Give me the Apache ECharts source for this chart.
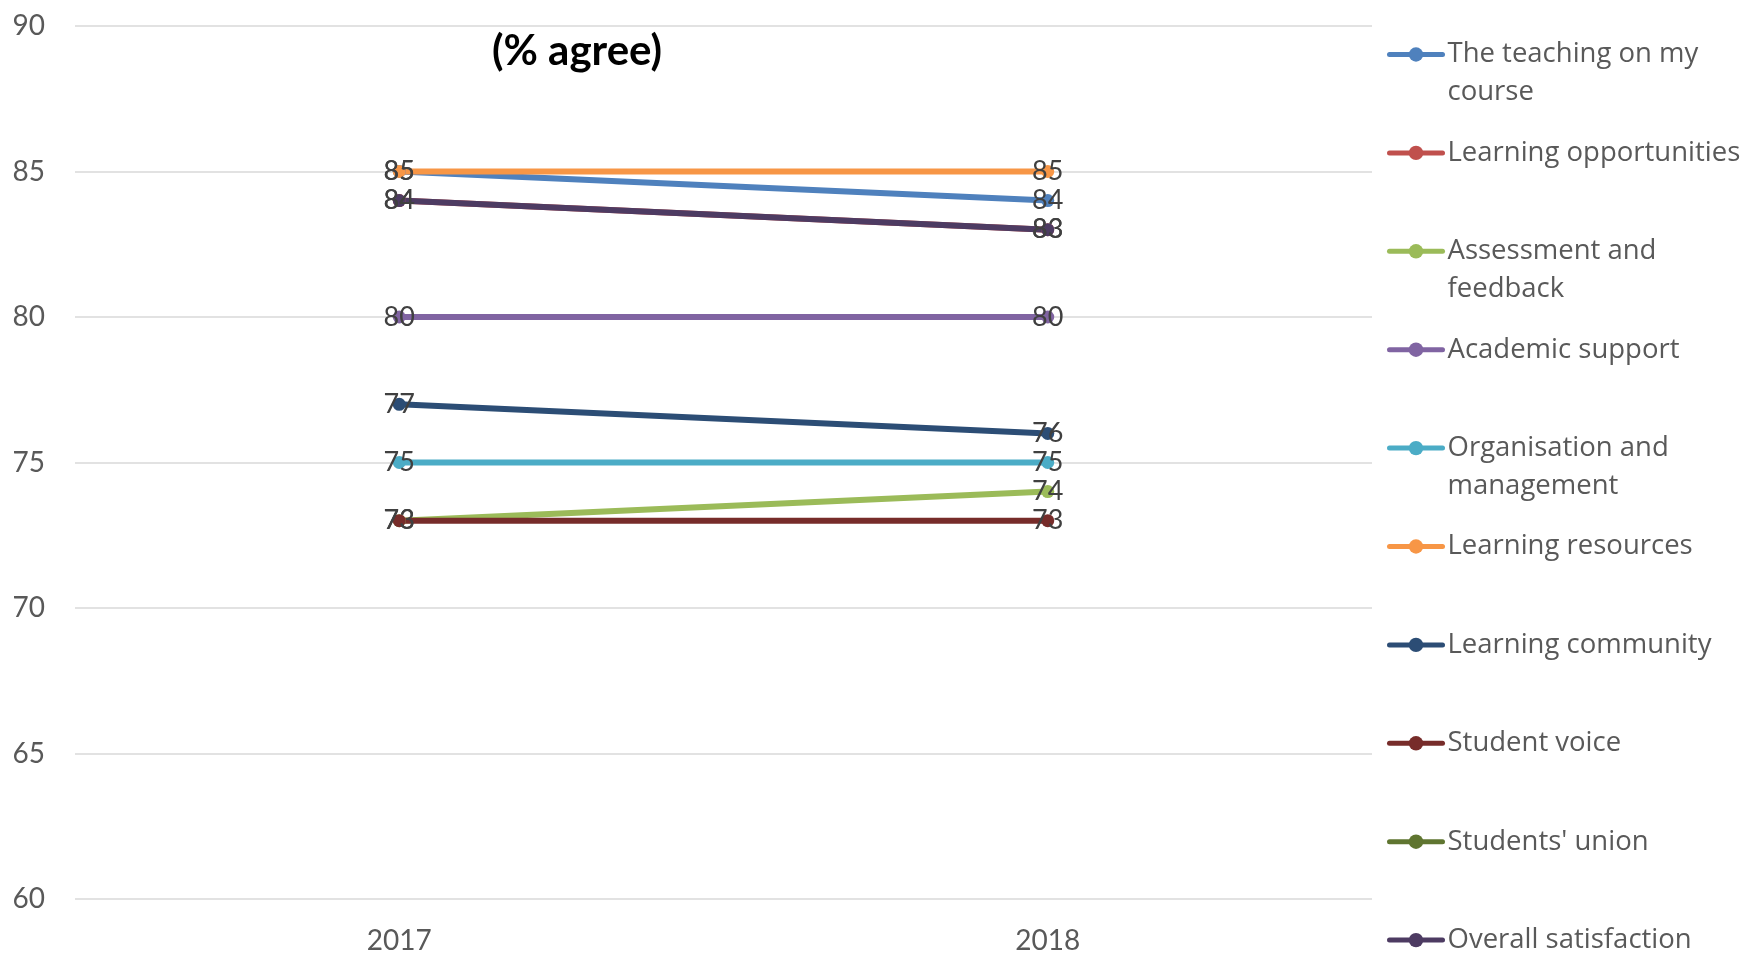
<!DOCTYPE html>
<html>
<head>
<meta charset="utf-8">
<title>Student survey results (% agree)</title>
<script src="https://cdn.jsdelivr.net/npm/echarts@6/dist/echarts.min.js"></script>
<style>
  html, body { margin: 0; padding: 0; background: #ffffff; }
  #chart { width: 1744px; height: 955px; }
</style>
</head>
<body>
<div id="chart"></div>
<script>
// Survey years on the category axis
const years = ['2017', '2018'];

// Value axis ticks
const yMin = 60;
const yMax = 90;
const yStep = 5;

// Question areas, in legend order
const seriesNames = [
  'The teaching on my course',
  'Learning opportunities',
  'Assessment and feedback',
  'Academic support',
  'Organisation and management',
  'Learning resources',
  'Learning community',
  'Student voice',
  "Students' union",
  'Overall satisfaction'
];

// Percentage agreeing, per area, for 2017 and 2018
const teaching = [85, 84];
const learningOpportunities = [84, 83];
const assessment = [73, 74];
const academicSupport = [80, 80];
const organisation = [75, 75];
const learningResources = [85, 85];
const learningCommunity = [77, 76];
const studentVoice = [73, 73];
const studentsUnion = [null, null];
const overall = [84, 83];

const seriesValues = [
  teaching, learningOpportunities, assessment, academicSupport, organisation,
  learningResources, learningCommunity, studentVoice, studentsUnion, overall
];

const colors = [
  '#4F81BD', '#C0504D', '#9BBB59', '#8064A2', '#4BACC6',
  '#F79646', '#2C4D75', '#772C2A', '#5F7530', '#4D3B62'
];

// Legend labels that wrap onto a second line
const wrapped = {
  'The teaching on my course': 'The teaching on my\ncourse',
  'Assessment and feedback': 'Assessment and\nfeedback',
  'Organisation and management': 'Organisation and\nmanagement'
};

const FONT = 'Lato, "Open Sans", sans-serif';
const LEGEND_FONT = '"Open Sans", Lato, sans-serif';
const LEGEND_LINE = 38;
const LEGEND_FIRST = 54.5;
const LEGEND_STEP = 98.4;

const series = seriesNames.map((name, i) => ({
  name: name,
  type: 'line',
  data: seriesValues[i],
  color: colors[i],
  symbol: 'circle',
  symbolSize: 13,
  showSymbol: true,
  lineStyle: { width: 6, color: colors[i], cap: 'round' },
  itemStyle: { color: colors[i] },
  label: {
    show: true,
    position: 'inside',
    color: '#404040',
    fontFamily: FONT,
    fontSize: 27
  },
  emphasis: { disabled: true },
  animation: false
}));

// One legend block per entry so every row keeps the same pitch.
// Wrapped entries get an empty leading line so the swatch sits
// beside the first line of text.
const legends = seriesNames.map((name, i) => {
  const body = wrapped[name] || name;
  const lines = body.split('\n').length;
  const text = lines > 1 ? '\n'.repeat(lines - 1) + body : body;
  const boxH = (2 * lines - 1) * LEGEND_LINE;
  return {
    data: [name],
    orient: 'vertical',
    left: 1387,
    top: LEGEND_FIRST + i * LEGEND_STEP - boxH / 2,
    padding: 0,
    itemWidth: 53,
    itemHeight: 18,
    itemGap: 0,
    textGap: 5,
    selectedMode: false,
    formatter: () => text,
    lineStyle: { width: 5, cap: 'round' },
    textStyle: {
      color: '#595959',
      fontFamily: LEGEND_FONT,
      fontSize: 27.5,
      lineHeight: LEGEND_LINE
    }
  };
});

const chart = echarts.init(document.getElementById('chart'), null, { renderer: 'canvas' });
chart.setOption({
  backgroundColor: '#ffffff',
  animation: false,
  title: {
    text: '(% agree)',
    left: 572,
    top: 25,
    textAlign: 'center',
    textStyle: { color: '#000000', fontFamily: FONT, fontWeight: 'bold', fontSize: 42 }
  },
  grid: { left: 75, right: 372, top: 26, bottom: 55, containLabel: false },
  xAxis: {
    type: 'category',
    data: years,
    boundaryGap: true,
    axisLine: { show: false },
    axisTick: { show: false },
    axisLabel: { color: '#595959', fontFamily: FONT, fontSize: 28, margin: 28 },
    splitLine: { show: false }
  },
  yAxis: {
    type: 'value',
    min: yMin,
    max: yMax,
    interval: yStep,
    axisLine: { show: false },
    axisTick: { show: false },
    axisLabel: { color: '#595959', fontFamily: FONT, fontSize: 28, margin: 30 },
    splitLine: { show: true, lineStyle: { color: '#D9D9D9', width: 1.5 } }
  },
  legend: legends,
  series: series
});
</script>
</body>
</html>
